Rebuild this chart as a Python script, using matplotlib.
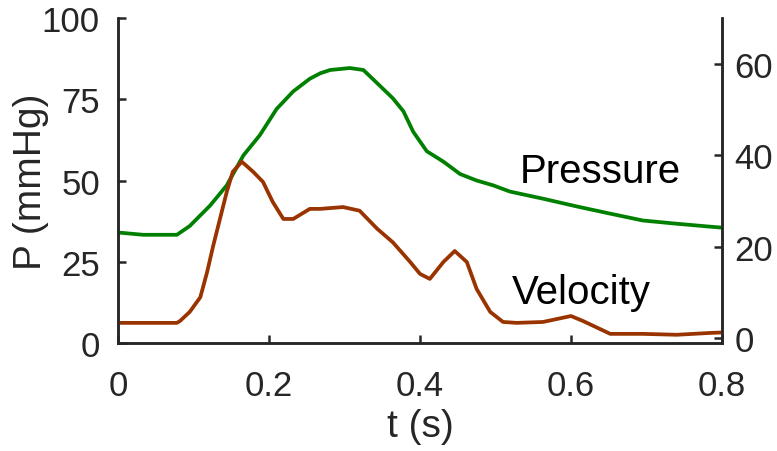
import matplotlib
matplotlib.use("Agg")
import matplotlib.pyplot as plt

plt.rcParams['font.family'] = ['Liberation Sans', 'DejaVu Sans']

# Pressure (left axis, mmHg)
t_p = [0.0, 0.033, 0.078, 0.095, 0.122, 0.144, 0.166, 0.188, 0.21, 0.232, 0.254,
       0.268, 0.281, 0.307, 0.325, 0.343, 0.364, 0.378, 0.391, 0.409, 0.431, 0.453,
       0.475, 0.497, 0.519, 0.563, 0.608, 0.652, 0.695, 0.74, 0.784, 0.8]
pressure = [34.0, 33.3, 33.3, 36.0, 42.3, 48.5, 57.7, 64.0, 72.0, 77.4, 81.3,
            83.0, 84.0, 84.6, 84.0, 80.0, 75.3, 71.3, 65.0, 59.0, 55.8, 52.0,
            50.0, 48.5, 46.6, 44.4, 42.0, 39.8, 37.7, 36.7, 35.8, 35.5]

# Velocity (right axis)
t_v = [0.0, 0.078, 0.082, 0.095, 0.109, 0.118, 0.126, 0.135, 0.144, 0.152, 0.164,
       0.179, 0.192, 0.205, 0.219, 0.232, 0.254, 0.268, 0.298, 0.32, 0.343, 0.364,
       0.387, 0.4, 0.413, 0.431, 0.446, 0.462, 0.475, 0.493, 0.51, 0.528, 0.563,
       0.6, 0.616, 0.652, 0.695, 0.74, 0.784, 0.8]
velocity = [3.4, 3.4, 3.8, 5.8, 9.0, 14.5, 20.2, 26.1, 32.0, 36.4, 38.6,
            36.4, 34.2, 29.8, 26.1, 26.1, 28.3, 28.3, 28.7, 27.9, 24.0, 21.0,
            16.7, 14.1, 13.0, 16.7, 19.1, 16.7, 10.8, 5.8, 3.6, 3.4, 3.6,
            4.9, 3.8, 1.0, 1.0, 0.8, 1.2, 1.3]

x_ticks = [0, 0.2, 0.4, 0.6, 0.8]
x_ticklabels = ['0', '0.2', '0.4', '0.6', '0.8']
left_ticks = [0, 25, 50, 75, 100]
right_ticks = [0, 20, 40, 60]

spine_col = '#262626'
fig = plt.figure(figsize=(7.77, 4.52), dpi=100)
ax = fig.add_axes([0.1519, 0.2389, 0.9292 - 0.1519, 0.958 - 0.2389])
ax2 = ax.twinx()

ax.plot(t_p, pressure, color='#008000', lw=2.7, solid_joinstyle='round')
ax2.plot(t_v, velocity, color='#993300', lw=2.7, solid_joinstyle='round')

ax.set_xlim(0, 0.8)
ax.set_ylim(0, 100)
ax2.set_ylim(-1, 70)

ax.set_xticks(x_ticks)
ax.set_xticklabels(x_ticklabels)
ax.set_yticks(left_ticks)
ax2.set_yticks(right_ticks)

for a in (ax, ax2):
    a.spines['top'].set_visible(False)
    for s in ('left', 'right', 'bottom'):
        a.spines[s].set_color(spine_col)
        a.spines[s].set_linewidth(1.8)

ax.tick_params(axis='both', direction='in', length=6, width=1.8, color=spine_col,
               labelsize=25, labelcolor=spine_col)
ax.tick_params(axis='x', pad=19)
ax.tick_params(axis='y', pad=13)
ax2.tick_params(axis='y', direction='in', length=6, width=1.8, color=spine_col,
                labelsize=25, labelcolor=spine_col, pad=9)

ax.set_xlabel('t (s)', fontsize=28, color=spine_col, labelpad=4)
ax.set_ylabel('P (mmHg)', fontsize=28, color=spine_col, labelpad=-5)

ax.text(0.5325, 49.4, 'Pressure', fontsize=29, color='black', ha='left', va='baseline')
ax.text(0.522, 12.3, 'Velocity', fontsize=29, color='black', ha='left', va='baseline')

fig.savefig('out.png', dpi=100)
